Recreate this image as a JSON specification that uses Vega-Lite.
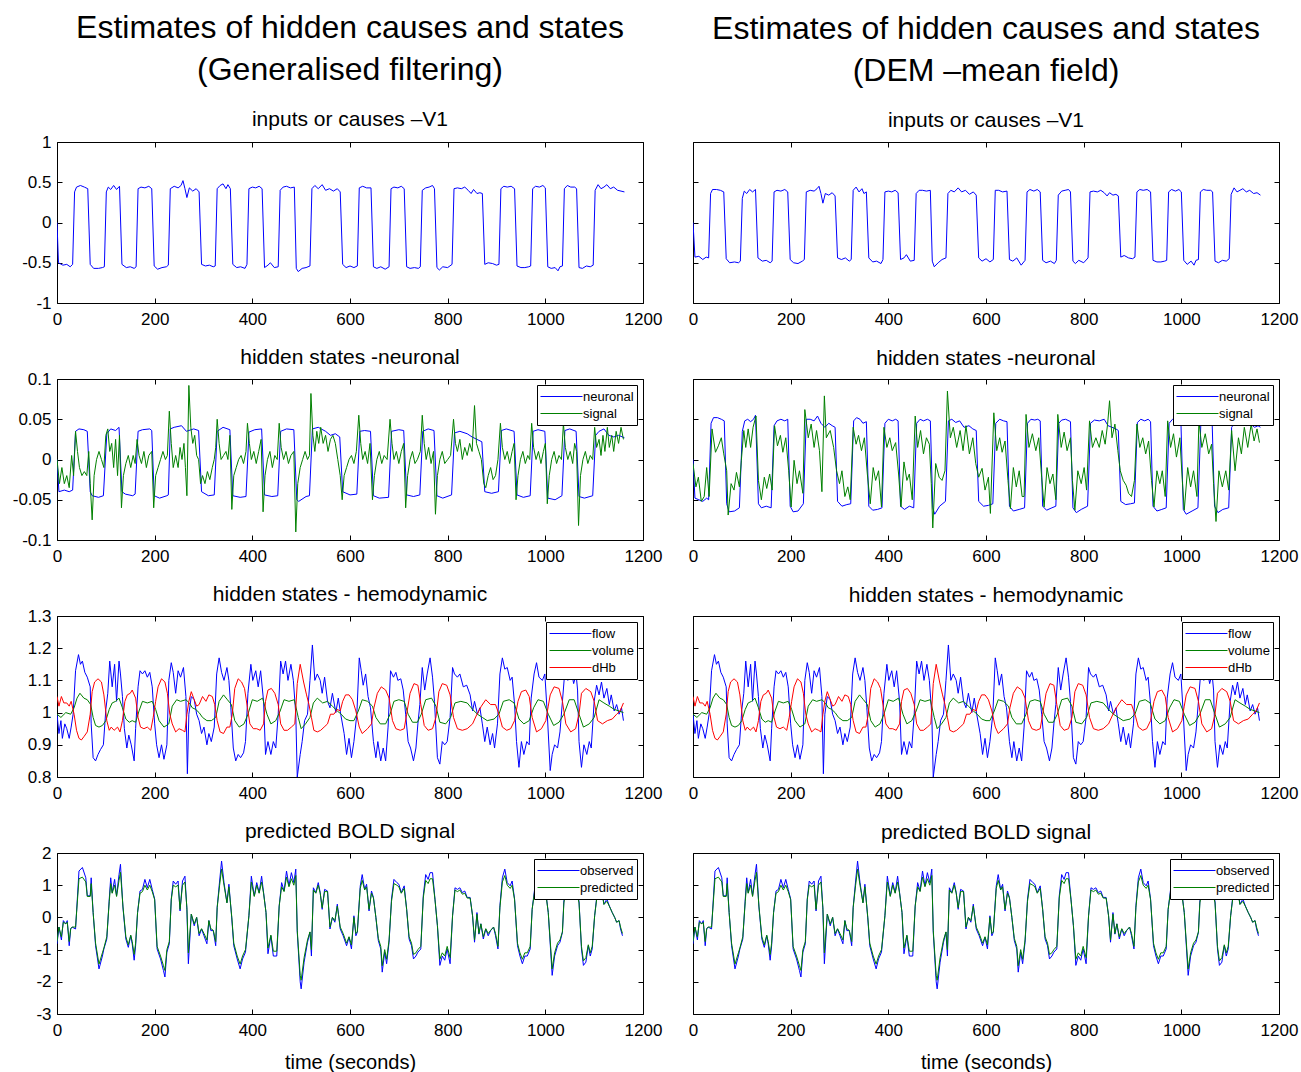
{
"$schema":"https://vega.github.io/schema/vega-lite/v6.json",
"background":"white",
"padding":{"left":11,"top":11,"right":0,"bottom":0},
"config":{
"font":"Liberation Sans",
"view":{"stroke":"#000","strokeWidth":1},
"axis":{"domain":false,"grid":false,"ticks":true,"tickSize":-5,"tickColor":"#000","tickWidth":1,"labelFont":"Liberation Sans","labelFontSize":17,"labelColor":"#000","labelFlush":false,"labelOverlap":false,"titleFont":"Liberation Sans","titleFontSize":20,"titleFontWeight":"normal","titleColor":"#000","titlePadding":14},
"axisX":{"labelPadding":13},
"axisY":{"labelPadding":11},
"legend":{"orient":"top-right","offset":6,"padding":3,"strokeColor":"#000","fillColor":"#fff","symbolType":"stroke","symbolSize":1764,"symbolStrokeWidth":1,"clipHeight":17,"labelFont":"Liberation Sans","labelFontSize":13,"labelColor":"#000","labelOffset":0,"rowPadding":0},
"title":{"font":"Liberation Sans","fontWeight":"normal","color":"#000","anchor":"middle","frame":"group","subtitleFont":"Liberation Sans","subtitleColor":"#000","subtitleFontWeight":"normal"}
},
"datasets":{
"fr":[{"t":600,"v":0}],
"v1L":[{"t":0,"v":0},{"t":3,"v":-0.5},{"t":12,"v":-0.53},{"t":20,"v":-0.52},{"t":27,"v":-0.55},{"t":32,"v":-0.52},{"t":36,"v":0.38},{"t":40,"v":0.44},{"t":48,"v":0.46},{"t":56,"v":0.44},{"t":63,"v":0.42},{"t":68,"v":-0.52},{"t":75,"v":-0.57},{"t":85,"v":-0.57},{"t":93,"v":-0.56},{"t":97,"v":-0.55},{"t":101,"v":0.38},{"t":105,"v":0.44},{"t":110,"v":0.41},{"t":116,"v":0.46},{"t":122,"v":0.41},{"t":128,"v":0.45},{"t":133,"v":-0.52},{"t":142,"v":-0.56},{"t":150,"v":-0.55},{"t":158,"v":-0.57},{"t":162,"v":-0.55},{"t":166,"v":0.42},{"t":172,"v":0.44},{"t":180,"v":0.43},{"t":188,"v":0.45},{"t":194,"v":0.42},{"t":199,"v":-0.54},{"t":206,"v":-0.58},{"t":215,"v":-0.56},{"t":224,"v":-0.55},{"t":228,"v":-0.53},{"t":232,"v":0.42},{"t":240,"v":0.45},{"t":248,"v":0.43},{"t":254,"v":0.46},{"t":258,"v":0.52},{"t":262,"v":0.42},{"t":266,"v":0.31},{"t":271,"v":0.43},{"t":278,"v":0.39},{"t":285,"v":0.42},{"t":291,"v":0.38},{"t":296,"v":-0.52},{"t":304,"v":-0.54},{"t":312,"v":-0.53},{"t":320,"v":-0.55},{"t":324,"v":-0.54},{"t":328,"v":0.42},{"t":334,"v":0.46},{"t":340,"v":0.48},{"t":346,"v":0.42},{"t":350,"v":0.47},{"t":355,"v":0.42},{"t":360,"v":-0.52},{"t":368,"v":-0.56},{"t":376,"v":-0.55},{"t":385,"v":-0.57},{"t":389,"v":-0.52},{"t":393,"v":0.42},{"t":400,"v":0.44},{"t":407,"v":0.43},{"t":414,"v":0.45},{"t":420,"v":0.42},{"t":425,"v":-0.56},{"t":432,"v":-0.53},{"t":437,"v":-0.5},{"t":445,"v":-0.56},{"t":453,"v":-0.55},{"t":457,"v":0.4},{"t":463,"v":0.44},{"t":470,"v":0.45},{"t":478,"v":0.43},{"t":486,"v":0.44},{"t":490,"v":-0.57},{"t":494,"v":-0.61},{"t":502,"v":-0.57},{"t":510,"v":-0.56},{"t":518,"v":-0.54},{"t":522,"v":0.42},{"t":528,"v":0.46},{"t":535,"v":0.42},{"t":543,"v":0.47},{"t":550,"v":0.4},{"t":558,"v":0.42},{"t":566,"v":0.39},{"t":574,"v":0.42},{"t":580,"v":0.38},{"t":585,"v":-0.52},{"t":592,"v":-0.56},{"t":600,"v":-0.54},{"t":608,"v":-0.56},{"t":615,"v":-0.54},{"t":619,"v":0.43},{"t":626,"v":0.45},{"t":634,"v":0.43},{"t":643,"v":0.43},{"t":648,"v":-0.55},{"t":655,"v":-0.57},{"t":663,"v":-0.55},{"t":672,"v":-0.58},{"t":680,"v":-0.55},{"t":684,"v":0.42},{"t":690,"v":0.44},{"t":698,"v":0.43},{"t":705,"v":0.45},{"t":711,"v":0.42},{"t":716,"v":-0.55},{"t":723,"v":-0.57},{"t":732,"v":-0.56},{"t":740,"v":-0.57},{"t":744,"v":-0.55},{"t":748,"v":0.4},{"t":755,"v":0.43},{"t":762,"v":0.44},{"t":769,"v":0.46},{"t":773,"v":0.42},{"t":778,"v":-0.56},{"t":783,"v":-0.59},{"t":790,"v":-0.55},{"t":800,"v":-0.56},{"t":809,"v":-0.52},{"t":813,"v":0.42},{"t":820,"v":0.43},{"t":828,"v":0.42},{"t":835,"v":0.44},{"t":842,"v":0.4},{"t":848,"v":0.36},{"t":853,"v":0.41},{"t":860,"v":0.36},{"t":866,"v":0.37},{"t":871,"v":0.36},{"t":876,"v":-0.52},{"t":883,"v":-0.5},{"t":892,"v":-0.51},{"t":900,"v":-0.53},{"t":905,"v":-0.52},{"t":909,"v":0.42},{"t":915,"v":0.45},{"t":922,"v":0.44},{"t":930,"v":0.45},{"t":937,"v":0.42},{"t":942,"v":-0.54},{"t":950,"v":-0.56},{"t":958,"v":-0.56},{"t":966,"v":-0.55},{"t":970,"v":-0.54},{"t":974,"v":0.42},{"t":980,"v":0.45},{"t":988,"v":0.44},{"t":995,"v":0.46},{"t":1000,"v":0.43},{"t":1005,"v":-0.55},{"t":1012,"v":-0.57},{"t":1020,"v":-0.56},{"t":1026,"v":-0.6},{"t":1030,"v":-0.55},{"t":1035,"v":-0.54},{"t":1039,"v":0.42},{"t":1045,"v":0.46},{"t":1052,"v":0.44},{"t":1060,"v":0.44},{"t":1064,"v":0.42},{"t":1069,"v":-0.56},{"t":1076,"v":-0.57},{"t":1084,"v":-0.54},{"t":1092,"v":-0.55},{"t":1098,"v":-0.53},{"t":1102,"v":0.4},{"t":1108,"v":0.47},{"t":1114,"v":0.42},{"t":1120,"v":0.44},{"t":1126,"v":0.47},{"t":1133,"v":0.42},{"t":1140,"v":0.44},{"t":1148,"v":0.4},{"t":1155,"v":0.39},{"t":1162,"v":0.38}],
"v1R":[{"t":0,"v":0},{"t":4,"v":-0.43},{"t":12,"v":-0.42},{"t":20,"v":-0.46},{"t":27,"v":-0.43},{"t":32,"v":-0.44},{"t":36,"v":0.36},{"t":40,"v":0.41},{"t":48,"v":0.41},{"t":56,"v":0.4},{"t":63,"v":0.38},{"t":68,"v":-0.45},{"t":75,"v":-0.5},{"t":85,"v":-0.49},{"t":93,"v":-0.5},{"t":97,"v":-0.48},{"t":101,"v":0.3},{"t":105,"v":0.39},{"t":110,"v":0.36},{"t":116,"v":0.41},{"t":122,"v":0.38},{"t":128,"v":0.41},{"t":133,"v":-0.44},{"t":142,"v":-0.48},{"t":150,"v":-0.47},{"t":158,"v":-0.5},{"t":162,"v":-0.48},{"t":166,"v":0.38},{"t":172,"v":0.4},{"t":180,"v":0.39},{"t":188,"v":0.41},{"t":194,"v":0.38},{"t":199,"v":-0.46},{"t":206,"v":-0.5},{"t":215,"v":-0.51},{"t":224,"v":-0.48},{"t":228,"v":-0.46},{"t":232,"v":0.38},{"t":240,"v":0.4},{"t":248,"v":0.39},{"t":254,"v":0.42},{"t":258,"v":0.45},{"t":262,"v":0.36},{"t":266,"v":0.24},{"t":271,"v":0.36},{"t":278,"v":0.34},{"t":285,"v":0.37},{"t":291,"v":0.33},{"t":296,"v":-0.44},{"t":304,"v":-0.46},{"t":312,"v":-0.44},{"t":320,"v":-0.48},{"t":324,"v":-0.46},{"t":328,"v":0.4},{"t":334,"v":0.44},{"t":340,"v":0.38},{"t":346,"v":0.42},{"t":350,"v":0.36},{"t":355,"v":0.38},{"t":360,"v":-0.44},{"t":368,"v":-0.49},{"t":376,"v":-0.48},{"t":385,"v":-0.51},{"t":389,"v":-0.46},{"t":393,"v":0.38},{"t":400,"v":0.39},{"t":407,"v":0.38},{"t":414,"v":0.4},{"t":420,"v":0.37},{"t":425,"v":-0.46},{"t":432,"v":-0.44},{"t":437,"v":-0.4},{"t":445,"v":-0.48},{"t":453,"v":-0.47},{"t":457,"v":0.36},{"t":463,"v":0.4},{"t":470,"v":0.4},{"t":478,"v":0.39},{"t":486,"v":0.4},{"t":490,"v":-0.48},{"t":494,"v":-0.55},{"t":502,"v":-0.5},{"t":510,"v":-0.46},{"t":518,"v":-0.44},{"t":522,"v":0.36},{"t":528,"v":0.4},{"t":535,"v":0.38},{"t":543,"v":0.43},{"t":550,"v":0.38},{"t":558,"v":0.4},{"t":566,"v":0.35},{"t":574,"v":0.38},{"t":580,"v":0.34},{"t":585,"v":-0.44},{"t":592,"v":-0.48},{"t":600,"v":-0.45},{"t":608,"v":-0.49},{"t":615,"v":-0.46},{"t":619,"v":0.4},{"t":626,"v":0.4},{"t":634,"v":0.38},{"t":643,"v":0.39},{"t":648,"v":-0.46},{"t":655,"v":-0.48},{"t":663,"v":-0.44},{"t":672,"v":-0.53},{"t":680,"v":-0.47},{"t":684,"v":0.38},{"t":690,"v":0.41},{"t":698,"v":0.39},{"t":705,"v":0.41},{"t":711,"v":0.38},{"t":716,"v":-0.47},{"t":723,"v":-0.5},{"t":732,"v":-0.48},{"t":740,"v":-0.51},{"t":744,"v":-0.47},{"t":748,"v":0.34},{"t":755,"v":0.39},{"t":762,"v":0.4},{"t":769,"v":0.41},{"t":773,"v":0.38},{"t":778,"v":-0.48},{"t":783,"v":-0.51},{"t":790,"v":-0.47},{"t":800,"v":-0.5},{"t":809,"v":-0.44},{"t":813,"v":0.38},{"t":820,"v":0.39},{"t":828,"v":0.38},{"t":835,"v":0.4},{"t":842,"v":0.37},{"t":848,"v":0.33},{"t":853,"v":0.37},{"t":860,"v":0.34},{"t":866,"v":0.35},{"t":871,"v":0.33},{"t":876,"v":-0.43},{"t":883,"v":-0.41},{"t":892,"v":-0.44},{"t":900,"v":-0.45},{"t":905,"v":-0.43},{"t":909,"v":0.38},{"t":915,"v":0.41},{"t":922,"v":0.4},{"t":930,"v":0.41},{"t":937,"v":0.38},{"t":942,"v":-0.47},{"t":950,"v":-0.49},{"t":958,"v":-0.49},{"t":966,"v":-0.48},{"t":970,"v":-0.47},{"t":974,"v":0.38},{"t":980,"v":0.41},{"t":988,"v":0.39},{"t":995,"v":0.41},{"t":1000,"v":0.38},{"t":1005,"v":-0.47},{"t":1012,"v":-0.52},{"t":1020,"v":-0.48},{"t":1026,"v":-0.53},{"t":1030,"v":-0.47},{"t":1035,"v":-0.46},{"t":1039,"v":0.38},{"t":1045,"v":0.41},{"t":1052,"v":0.4},{"t":1060,"v":0.4},{"t":1064,"v":0.38},{"t":1069,"v":-0.48},{"t":1076,"v":-0.5},{"t":1084,"v":-0.47},{"t":1092,"v":-0.48},{"t":1098,"v":-0.45},{"t":1102,"v":0.35},{"t":1108,"v":0.43},{"t":1114,"v":0.38},{"t":1120,"v":0.4},{"t":1126,"v":0.42},{"t":1133,"v":0.38},{"t":1140,"v":0.4},{"t":1148,"v":0.36},{"t":1155,"v":0.37},{"t":1162,"v":0.34}],
"neL":[{"t":0,"neuronal":0},{"t":4,"neuronal":-0.04},{"t":15,"neuronal":-0.038},{"t":25,"neuronal":-0.04},{"t":32,"neuronal":-0.038},{"t":38,"neuronal":0.035},{"t":45,"neuronal":0.038},{"t":55,"neuronal":0.037},{"t":62,"neuronal":0.035},{"t":68,"neuronal":-0.04},{"t":72,"neuronal":-0.045},{"t":85,"neuronal":-0.047},{"t":95,"neuronal":-0.045},{"t":102,"neuronal":0.032},{"t":110,"neuronal":0.038},{"t":120,"neuronal":0.036},{"t":127,"neuronal":0.04},{"t":133,"neuronal":-0.04},{"t":140,"neuronal":-0.043},{"t":155,"neuronal":-0.045},{"t":160,"neuronal":-0.043},{"t":166,"neuronal":0.035},{"t":175,"neuronal":0.037},{"t":190,"neuronal":0.038},{"t":194,"neuronal":0.036},{"t":199,"neuronal":-0.045},{"t":210,"neuronal":-0.048},{"t":225,"neuronal":-0.045},{"t":228,"neuronal":-0.044},{"t":232,"neuronal":0.038},{"t":240,"neuronal":0.04},{"t":255,"neuronal":0.042},{"t":265,"neuronal":0.035},{"t":280,"neuronal":0.038},{"t":290,"neuronal":0.036},{"t":296,"neuronal":-0.04},{"t":310,"neuronal":-0.045},{"t":322,"neuronal":-0.044},{"t":328,"neuronal":0.035},{"t":340,"neuronal":0.04},{"t":354,"neuronal":0.037},{"t":360,"neuronal":-0.045},{"t":375,"neuronal":-0.047},{"t":387,"neuronal":-0.046},{"t":393,"neuronal":0.034},{"t":405,"neuronal":0.037},{"t":419,"neuronal":0.038},{"t":425,"neuronal":-0.044},{"t":440,"neuronal":-0.046},{"t":452,"neuronal":-0.045},{"t":458,"neuronal":0.035},{"t":470,"neuronal":0.038},{"t":485,"neuronal":0.037},{"t":491,"neuronal":-0.05},{"t":495,"neuronal":-0.052},{"t":510,"neuronal":-0.046},{"t":517,"neuronal":-0.045},{"t":523,"neuronal":0.038},{"t":535,"neuronal":0.04},{"t":550,"neuronal":0.035},{"t":560,"neuronal":0.03},{"t":570,"neuronal":0.032},{"t":579,"neuronal":0.028},{"t":585,"neuronal":-0.04},{"t":600,"neuronal":-0.044},{"t":614,"neuronal":-0.043},{"t":620,"neuronal":0.035},{"t":630,"neuronal":0.036},{"t":642,"neuronal":0.035},{"t":648,"neuronal":-0.045},{"t":660,"neuronal":-0.048},{"t":679,"neuronal":-0.047},{"t":685,"neuronal":0.035},{"t":700,"neuronal":0.037},{"t":710,"neuronal":0.036},{"t":716,"neuronal":-0.044},{"t":730,"neuronal":-0.046},{"t":743,"neuronal":-0.044},{"t":749,"neuronal":0.035},{"t":760,"neuronal":0.038},{"t":772,"neuronal":0.036},{"t":778,"neuronal":-0.045},{"t":790,"neuronal":-0.048},{"t":808,"neuronal":-0.044},{"t":814,"neuronal":0.033},{"t":825,"neuronal":0.035},{"t":840,"neuronal":0.032},{"t":850,"neuronal":0.028},{"t":860,"neuronal":0.025},{"t":870,"neuronal":0.022},{"t":876,"neuronal":-0.04},{"t":890,"neuronal":-0.042},{"t":904,"neuronal":-0.04},{"t":910,"neuronal":0.036},{"t":920,"neuronal":0.038},{"t":936,"neuronal":0.035},{"t":942,"neuronal":-0.044},{"t":955,"neuronal":-0.047},{"t":969,"neuronal":-0.045},{"t":975,"neuronal":0.035},{"t":985,"neuronal":0.037},{"t":999,"neuronal":0.035},{"t":1005,"neuronal":-0.048},{"t":1020,"neuronal":-0.05},{"t":1034,"neuronal":-0.045},{"t":1040,"neuronal":0.036},{"t":1050,"neuronal":0.038},{"t":1063,"neuronal":0.035},{"t":1069,"neuronal":-0.046},{"t":1080,"neuronal":-0.048},{"t":1097,"neuronal":-0.045},{"t":1103,"neuronal":0.03},{"t":1110,"neuronal":0.035},{"t":1120,"neuronal":0.038},{"t":1130,"neuronal":0.03},{"t":1140,"neuronal":0.028},{"t":1150,"neuronal":0.03},{"t":1162,"neuronal":0.027}],
"siL":[{"t":0,"signal":0},{"t":5,"signal":-0.03},{"t":10,"signal":-0.01},{"t":15,"signal":-0.03},{"t":20,"signal":-0.02},{"t":25,"signal":-0.035},{"t":30,"signal":0.005},{"t":34,"signal":-0.02},{"t":38,"signal":0.035},{"t":42,"signal":0.01},{"t":46,"signal":-0.01},{"t":51,"signal":-0.02},{"t":56,"signal":-0.015},{"t":61,"signal":-0.02},{"t":65,"signal":0.01},{"t":68,"signal":-0.03},{"t":72,"signal":-0.075},{"t":76,"signal":-0.02},{"t":81,"signal":0},{"t":86,"signal":0.01},{"t":91,"signal":0},{"t":96,"signal":-0.01},{"t":100,"signal":0.03},{"t":104,"signal":0.038},{"t":108,"signal":0.01},{"t":112,"signal":0.02},{"t":116,"signal":-0.01},{"t":120,"signal":0.025},{"t":124,"signal":-0.02},{"t":128,"signal":0.03},{"t":132,"signal":-0.06},{"t":136,"signal":-0.02},{"t":141,"signal":-0.005},{"t":146,"signal":0.005},{"t":151,"signal":-0.01},{"t":156,"signal":0.005},{"t":160,"signal":-0.005},{"t":164,"signal":0.025},{"t":168,"signal":0.005},{"t":173,"signal":-0.005},{"t":178,"signal":0.01},{"t":183,"signal":-0.01},{"t":188,"signal":0.005},{"t":194,"signal":0.01},{"t":198,"signal":-0.06},{"t":202,"signal":-0.02},{"t":207,"signal":-0.01},{"t":212,"signal":0},{"t":217,"signal":0.01},{"t":222,"signal":0},{"t":226,"signal":0.005},{"t":230,"signal":0.06},{"t":234,"signal":0.02},{"t":238,"signal":-0.01},{"t":243,"signal":0.005},{"t":248,"signal":-0.01},{"t":252,"signal":0.015},{"t":256,"signal":0},{"t":260,"signal":0.02},{"t":263,"signal":-0.01},{"t":266,"signal":-0.045},{"t":270,"signal":0.092},{"t":274,"signal":0.04},{"t":278,"signal":0.02},{"t":282,"signal":0.03},{"t":286,"signal":0.005},{"t":290,"signal":0},{"t":294,"signal":-0.03},{"t":298,"signal":-0.02},{"t":303,"signal":-0.03},{"t":308,"signal":-0.015},{"t":313,"signal":-0.025},{"t":318,"signal":-0.01},{"t":322,"signal":0},{"t":325,"signal":0.015},{"t":328,"signal":0.05},{"t":332,"signal":0.02},{"t":336,"signal":0},{"t":341,"signal":0.005},{"t":346,"signal":0.01},{"t":350,"signal":0},{"t":354,"signal":0.03},{"t":358,"signal":-0.062},{"t":362,"signal":-0.02},{"t":367,"signal":-0.01},{"t":372,"signal":0},{"t":377,"signal":0.005},{"t":382,"signal":-0.005},{"t":387,"signal":0.01},{"t":390,"signal":0.045},{"t":394,"signal":0.02},{"t":398,"signal":0},{"t":403,"signal":0.01},{"t":408,"signal":-0.005},{"t":413,"signal":0.01},{"t":418,"signal":0.025},{"t":422,"signal":-0.065},{"t":426,"signal":-0.02},{"t":431,"signal":0},{"t":436,"signal":0.01},{"t":441,"signal":-0.01},{"t":446,"signal":0.005},{"t":451,"signal":0},{"t":455,"signal":0.045},{"t":459,"signal":0.015},{"t":464,"signal":0},{"t":469,"signal":0.01},{"t":474,"signal":-0.005},{"t":479,"signal":0.005},{"t":485,"signal":0.01},{"t":489,"signal":-0.09},{"t":493,"signal":-0.03},{"t":498,"signal":-0.01},{"t":503,"signal":0},{"t":508,"signal":0.01},{"t":513,"signal":0},{"t":517,"signal":0.005},{"t":520,"signal":0.082},{"t":524,"signal":0.03},{"t":528,"signal":0.01},{"t":532,"signal":0.035},{"t":536,"signal":0.02},{"t":540,"signal":0.04},{"t":545,"signal":0.02},{"t":550,"signal":0.03},{"t":555,"signal":0.01},{"t":560,"signal":0.025},{"t":565,"signal":0.03},{"t":570,"signal":0.02},{"t":575,"signal":0},{"t":580,"signal":-0.02},{"t":584,"signal":-0.05},{"t":588,"signal":-0.02},{"t":593,"signal":-0.01},{"t":598,"signal":0},{"t":603,"signal":0.005},{"t":608,"signal":-0.005},{"t":613,"signal":0.01},{"t":618,"signal":0.055},{"t":622,"signal":0.02},{"t":626,"signal":0},{"t":631,"signal":0.01},{"t":636,"signal":-0.005},{"t":641,"signal":0.02},{"t":646,"signal":-0.05},{"t":650,"signal":-0.02},{"t":655,"signal":0},{"t":660,"signal":0.01},{"t":665,"signal":-0.005},{"t":670,"signal":0.005},{"t":676,"signal":0},{"t":682,"signal":0.05},{"t":686,"signal":0.02},{"t":690,"signal":0},{"t":695,"signal":0.01},{"t":700,"signal":-0.005},{"t":705,"signal":0.01},{"t":710,"signal":0.02},{"t":714,"signal":-0.06},{"t":718,"signal":-0.02},{"t":723,"signal":0},{"t":728,"signal":0.01},{"t":733,"signal":-0.005},{"t":738,"signal":0},{"t":744,"signal":0.01},{"t":748,"signal":0.055},{"t":752,"signal":0.02},{"t":756,"signal":0},{"t":761,"signal":0.015},{"t":766,"signal":-0.005},{"t":771,"signal":0.01},{"t":775,"signal":-0.068},{"t":779,"signal":-0.02},{"t":784,"signal":0},{"t":789,"signal":0.01},{"t":794,"signal":-0.005},{"t":800,"signal":0},{"t":806,"signal":0.005},{"t":812,"signal":0.05},{"t":816,"signal":0.02},{"t":820,"signal":0.01},{"t":825,"signal":0.025},{"t":830,"signal":0},{"t":835,"signal":0.015},{"t":840,"signal":0.005},{"t":845,"signal":0.02},{"t":850,"signal":0.01},{"t":855,"signal":0.067},{"t":859,"signal":0.02},{"t":864,"signal":0.01},{"t":869,"signal":0},{"t":874,"signal":-0.03},{"t":878,"signal":-0.035},{"t":883,"signal":-0.02},{"t":888,"signal":-0.01},{"t":893,"signal":-0.025},{"t":898,"signal":-0.02},{"t":903,"signal":0},{"t":908,"signal":0.045},{"t":912,"signal":0.015},{"t":917,"signal":0},{"t":922,"signal":0.01},{"t":927,"signal":-0.005},{"t":932,"signal":0.01},{"t":936,"signal":0.02},{"t":940,"signal":-0.05},{"t":944,"signal":-0.02},{"t":949,"signal":0},{"t":954,"signal":0.01},{"t":959,"signal":-0.005},{"t":964,"signal":0.005},{"t":968,"signal":0},{"t":972,"signal":0.045},{"t":976,"signal":0.015},{"t":981,"signal":0},{"t":986,"signal":0.01},{"t":991,"signal":-0.005},{"t":996,"signal":0.01},{"t":1000,"signal":0.02},{"t":1004,"signal":-0.055},{"t":1008,"signal":-0.02},{"t":1013,"signal":0},{"t":1018,"signal":0.01},{"t":1023,"signal":-0.005},{"t":1028,"signal":0.005},{"t":1033,"signal":0},{"t":1037,"signal":0.045},{"t":1041,"signal":0.015},{"t":1046,"signal":0},{"t":1051,"signal":0.01},{"t":1056,"signal":-0.005},{"t":1060,"signal":0.02},{"t":1064,"signal":0.01},{"t":1068,"signal":-0.082},{"t":1072,"signal":-0.02},{"t":1077,"signal":0},{"t":1082,"signal":0.01},{"t":1087,"signal":-0.005},{"t":1092,"signal":0.005},{"t":1097,"signal":0},{"t":1101,"signal":0.04},{"t":1105,"signal":0.015},{"t":1110,"signal":0.025},{"t":1114,"signal":0.005},{"t":1118,"signal":0.03},{"t":1122,"signal":0.01},{"t":1127,"signal":0.04},{"t":1131,"signal":0.015},{"t":1136,"signal":0.03},{"t":1140,"signal":0.01},{"t":1145,"signal":0.035},{"t":1150,"signal":0.02},{"t":1155,"signal":0.04},{"t":1160,"signal":0.025}],
"neR":[{"t":0,"neuronal":0},{"t":4,"neuronal":-0.048},{"t":12,"neuronal":-0.05},{"t":20,"neuronal":-0.052},{"t":28,"neuronal":-0.048},{"t":32,"neuronal":-0.05},{"t":37,"neuronal":0.045},{"t":42,"neuronal":0.052},{"t":50,"neuronal":0.052},{"t":58,"neuronal":0.05},{"t":64,"neuronal":0.048},{"t":69,"neuronal":-0.055},{"t":74,"neuronal":-0.065},{"t":85,"neuronal":-0.064},{"t":95,"neuronal":-0.06},{"t":101,"neuronal":0.035},{"t":106,"neuronal":0.048},{"t":112,"neuronal":0.05},{"t":118,"neuronal":0.047},{"t":124,"neuronal":0.05},{"t":128,"neuronal":0.055},{"t":134,"neuronal":-0.055},{"t":140,"neuronal":-0.06},{"t":150,"neuronal":-0.058},{"t":160,"neuronal":-0.06},{"t":166,"neuronal":0.042},{"t":172,"neuronal":0.048},{"t":180,"neuronal":0.05},{"t":188,"neuronal":0.048},{"t":194,"neuronal":0.05},{"t":199,"neuronal":-0.058},{"t":205,"neuronal":-0.065},{"t":215,"neuronal":-0.064},{"t":226,"neuronal":-0.055},{"t":232,"neuronal":0.05},{"t":240,"neuronal":0.05},{"t":248,"neuronal":0.048},{"t":255,"neuronal":0.054},{"t":262,"neuronal":0.045},{"t":270,"neuronal":0.04},{"t":278,"neuronal":0.045},{"t":285,"neuronal":0.042},{"t":291,"neuronal":0.04},{"t":296,"neuronal":-0.052},{"t":305,"neuronal":-0.058},{"t":315,"neuronal":-0.056},{"t":323,"neuronal":-0.055},{"t":329,"neuronal":0.048},{"t":335,"neuronal":0.052},{"t":342,"neuronal":0.05},{"t":348,"neuronal":0.045},{"t":355,"neuronal":0.047},{"t":360,"neuronal":-0.058},{"t":368,"neuronal":-0.063},{"t":378,"neuronal":-0.062},{"t":387,"neuronal":-0.06},{"t":393,"neuronal":0.045},{"t":400,"neuronal":0.05},{"t":408,"neuronal":0.048},{"t":415,"neuronal":0.05},{"t":420,"neuronal":0.048},{"t":425,"neuronal":-0.058},{"t":433,"neuronal":-0.062},{"t":443,"neuronal":-0.058},{"t":452,"neuronal":-0.06},{"t":458,"neuronal":0.045},{"t":465,"neuronal":0.05},{"t":472,"neuronal":0.048},{"t":480,"neuronal":0.05},{"t":486,"neuronal":0.048},{"t":491,"neuronal":-0.06},{"t":495,"neuronal":-0.068},{"t":505,"neuronal":-0.058},{"t":517,"neuronal":-0.052},{"t":523,"neuronal":0.048},{"t":530,"neuronal":0.05},{"t":538,"neuronal":0.046},{"t":546,"neuronal":0.048},{"t":555,"neuronal":0.04},{"t":565,"neuronal":0.042},{"t":573,"neuronal":0.038},{"t":580,"neuronal":0.036},{"t":585,"neuronal":-0.052},{"t":595,"neuronal":-0.058},{"t":605,"neuronal":-0.057},{"t":614,"neuronal":-0.055},{"t":620,"neuronal":0.045},{"t":628,"neuronal":0.05},{"t":636,"neuronal":0.048},{"t":643,"neuronal":0.047},{"t":648,"neuronal":-0.058},{"t":656,"neuronal":-0.064},{"t":668,"neuronal":-0.062},{"t":679,"neuronal":-0.06},{"t":685,"neuronal":0.045},{"t":692,"neuronal":0.05},{"t":700,"neuronal":0.049},{"t":706,"neuronal":0.05},{"t":711,"neuronal":0.048},{"t":716,"neuronal":-0.058},{"t":724,"neuronal":-0.063},{"t":735,"neuronal":-0.06},{"t":743,"neuronal":-0.058},{"t":749,"neuronal":0.045},{"t":755,"neuronal":0.049},{"t":763,"neuronal":0.05},{"t":770,"neuronal":0.048},{"t":773,"neuronal":0.047},{"t":778,"neuronal":-0.06},{"t":785,"neuronal":-0.066},{"t":795,"neuronal":-0.062},{"t":808,"neuronal":-0.058},{"t":814,"neuronal":0.045},{"t":822,"neuronal":0.049},{"t":832,"neuronal":0.048},{"t":842,"neuronal":0.05},{"t":850,"neuronal":0.042},{"t":858,"neuronal":0.04},{"t":866,"neuronal":0.038},{"t":871,"neuronal":0.036},{"t":876,"neuronal":-0.052},{"t":886,"neuronal":-0.056},{"t":896,"neuronal":-0.055},{"t":904,"neuronal":-0.054},{"t":910,"neuronal":0.046},{"t":917,"neuronal":0.05},{"t":925,"neuronal":0.048},{"t":932,"neuronal":0.05},{"t":937,"neuronal":0.047},{"t":942,"neuronal":-0.058},{"t":950,"neuronal":-0.064},{"t":960,"neuronal":-0.062},{"t":969,"neuronal":-0.06},{"t":975,"neuronal":0.045},{"t":982,"neuronal":0.05},{"t":990,"neuronal":0.048},{"t":999,"neuronal":0.05},{"t":1004,"neuronal":-0.062},{"t":1010,"neuronal":-0.068},{"t":1022,"neuronal":-0.064},{"t":1034,"neuronal":-0.06},{"t":1040,"neuronal":0.046},{"t":1048,"neuronal":0.05},{"t":1056,"neuronal":0.049},{"t":1063,"neuronal":0.048},{"t":1068,"neuronal":-0.058},{"t":1075,"neuronal":-0.066},{"t":1085,"neuronal":-0.062},{"t":1097,"neuronal":-0.06},{"t":1103,"neuronal":0.04},{"t":1110,"neuronal":0.046},{"t":1118,"neuronal":0.044},{"t":1126,"neuronal":0.046},{"t":1134,"neuronal":0.042},{"t":1142,"neuronal":0.044},{"t":1150,"neuronal":0.04},{"t":1157,"neuronal":0.042},{"t":1162,"neuronal":0.04}],
"siR":[{"t":0,"signal":-0.005},{"t":6,"signal":-0.034},{"t":11,"signal":-0.022},{"t":17,"signal":-0.052},{"t":23,"signal":-0.046},{"t":28,"signal":-0.01},{"t":33,"signal":-0.046},{"t":39,"signal":0.038},{"t":46,"signal":0.009},{"t":52,"signal":0.017},{"t":58,"signal":0.027},{"t":63,"signal":0.007},{"t":69,"signal":-0.014},{"t":72,"signal":-0.069},{"t":78,"signal":-0.03},{"t":84,"signal":-0.038},{"t":89,"signal":-0.016},{"t":95,"signal":-0.034},{"t":99,"signal":-0.001},{"t":104,"signal":0.036},{"t":108,"signal":0.015},{"t":113,"signal":0.038},{"t":118,"signal":0.015},{"t":123,"signal":0.04},{"t":129,"signal":0.054},{"t":134,"signal":-0.026},{"t":140,"signal":-0.05},{"t":146,"signal":-0.022},{"t":151,"signal":-0.036},{"t":157,"signal":-0.018},{"t":162,"signal":-0.038},{"t":167,"signal":0.042},{"t":173,"signal":0.017},{"t":179,"signal":0.03},{"t":184,"signal":0.009},{"t":190,"signal":0.027},{"t":196,"signal":-0.014},{"t":201,"signal":-0.059},{"t":207,"signal":-0.001},{"t":213,"signal":-0.03},{"t":218,"signal":-0.014},{"t":225,"signal":-0.042},{"t":229,"signal":0.062},{"t":236,"signal":0.027},{"t":242,"signal":0.044},{"t":248,"signal":0.015},{"t":253,"signal":0.036},{"t":259,"signal":0.011},{"t":264,"signal":-0.04},{"t":269,"signal":0.079},{"t":273,"signal":0.027},{"t":281,"signal":0.036},{"t":288,"signal":0.015},{"t":294,"signal":-0.014},{"t":300,"signal":-0.03},{"t":305,"signal":-0.014},{"t":311,"signal":-0.046},{"t":317,"signal":-0.034},{"t":322,"signal":-0.05},{"t":328,"signal":0.04},{"t":334,"signal":0.019},{"t":339,"signal":0.03},{"t":345,"signal":0.011},{"t":351,"signal":0.027},{"t":357,"signal":-0.018},{"t":363,"signal":-0.055},{"t":369,"signal":-0.01},{"t":374,"signal":-0.026},{"t":380,"signal":-0.014},{"t":386,"signal":-0.059},{"t":391,"signal":0.04},{"t":397,"signal":0.015},{"t":403,"signal":0.027},{"t":408,"signal":0.011},{"t":415,"signal":0.021},{"t":421,"signal":-0.018},{"t":426,"signal":-0.059},{"t":432,"signal":-0.003},{"t":438,"signal":-0.026},{"t":443,"signal":-0.018},{"t":449,"signal":-0.05},{"t":455,"signal":0.054},{"t":460,"signal":0.015},{"t":466,"signal":0.036},{"t":472,"signal":0.007},{"t":478,"signal":0.027},{"t":484,"signal":0.019},{"t":488,"signal":-0.03},{"t":491,"signal":-0.085},{"t":497,"signal":-0.005},{"t":504,"signal":-0.022},{"t":510,"signal":-0.026},{"t":516,"signal":-0.014},{"t":521,"signal":0.085},{"t":527,"signal":0.027},{"t":533,"signal":0.04},{"t":540,"signal":0.015},{"t":547,"signal":0.036},{"t":553,"signal":0.011},{"t":559,"signal":0.042},{"t":566,"signal":0.007},{"t":573,"signal":0.027},{"t":579,"signal":-0.005},{"t":585,"signal":-0.022},{"t":592,"signal":-0.011},{"t":598,"signal":-0.038},{"t":605,"signal":-0.022},{"t":609,"signal":-0.067},{"t":616,"signal":0.058},{"t":622,"signal":0.011},{"t":628,"signal":0.027},{"t":633,"signal":0.009},{"t":639,"signal":0.023},{"t":645,"signal":-0.026},{"t":650,"signal":-0.061},{"t":656,"signal":-0.01},{"t":662,"signal":-0.034},{"t":668,"signal":-0.014},{"t":674,"signal":-0.046},{"t":678,"signal":-0.046},{"t":682,"signal":0.056},{"t":688,"signal":0.015},{"t":695,"signal":0.032},{"t":702,"signal":0.011},{"t":708,"signal":0.027},{"t":714,"signal":-0.022},{"t":719,"signal":-0.059},{"t":725,"signal":-0.01},{"t":731,"signal":-0.03},{"t":737,"signal":-0.018},{"t":743,"signal":-0.05},{"t":747,"signal":0.056},{"t":754,"signal":0.015},{"t":760,"signal":0.034},{"t":766,"signal":0.011},{"t":773,"signal":0.027},{"t":777,"signal":-0.026},{"t":782,"signal":-0.063},{"t":788,"signal":-0.014},{"t":795,"signal":-0.03},{"t":801,"signal":-0.01},{"t":806,"signal":-0.038},{"t":812,"signal":0.048},{"t":818,"signal":0.015},{"t":825,"signal":0.027},{"t":832,"signal":0.015},{"t":838,"signal":0.036},{"t":844,"signal":0.019},{"t":849,"signal":0.044},{"t":853,"signal":0.073},{"t":858,"signal":0.027},{"t":864,"signal":0.044},{"t":870,"signal":0.011},{"t":875,"signal":-0.014},{"t":881,"signal":-0.026},{"t":887,"signal":-0.032},{"t":892,"signal":-0.042},{"t":898,"signal":-0.046},{"t":904,"signal":-0.026},{"t":909,"signal":0.044},{"t":915,"signal":0.015},{"t":921,"signal":0.027},{"t":927,"signal":0.007},{"t":933,"signal":0.023},{"t":939,"signal":-0.026},{"t":944,"signal":-0.059},{"t":950,"signal":-0.014},{"t":956,"signal":-0.03},{"t":961,"signal":-0.014},{"t":967,"signal":-0.046},{"t":972,"signal":0.048},{"t":978,"signal":0.015},{"t":984,"signal":0.032},{"t":990,"signal":0.003},{"t":997,"signal":0.027},{"t":1002,"signal":-0.026},{"t":1006,"signal":-0.063},{"t":1013,"signal":-0.01},{"t":1019,"signal":-0.034},{"t":1025,"signal":-0.014},{"t":1032,"signal":-0.046},{"t":1036,"signal":0.048},{"t":1042,"signal":0.015},{"t":1049,"signal":0.032},{"t":1056,"signal":0.007},{"t":1062,"signal":0.019},{"t":1066,"signal":-0.03},{"t":1071,"signal":-0.077},{"t":1077,"signal":-0.014},{"t":1084,"signal":-0.034},{"t":1091,"signal":-0.014},{"t":1097,"signal":-0.038},{"t":1103,"signal":0.036},{"t":1110,"signal":-0.014},{"t":1117,"signal":0.027},{"t":1123,"signal":0.007},{"t":1129,"signal":0.04},{"t":1136,"signal":0.015},{"t":1143,"signal":0.044},{"t":1149,"signal":0.023},{"t":1155,"signal":0.038},{"t":1160,"signal":0.021}],
"flo":[{"t":0,"flow":0.995},{"t":4,"flow":0.935},{"t":8,"flow":0.975},{"t":11,"flow":0.92},{"t":16,"flow":0.965},{"t":20,"flow":0.95},{"t":25,"flow":0.92},{"t":29,"flow":0.955},{"t":33,"flow":0.995},{"t":38,"flow":1.13},{"t":44,"flow":1.18},{"t":48,"flow":1.15},{"t":52,"flow":1.16},{"t":57,"flow":1.125},{"t":62,"flow":1.11},{"t":68,"flow":1.08},{"t":70,"flow":0.965},{"t":74,"flow":0.86},{"t":79,"flow":0.85},{"t":84,"flow":0.87},{"t":89,"flow":0.885},{"t":95,"flow":0.9},{"t":100,"flow":1.01},{"t":104,"flow":1.06},{"t":108,"flow":1.16},{"t":113,"flow":1.08},{"t":118,"flow":1.15},{"t":122,"flow":1.035},{"t":127,"flow":1.16},{"t":130,"flow":1.12},{"t":134,"flow":1.05},{"t":138,"flow":0.95},{"t":143,"flow":0.89},{"t":147,"flow":0.93},{"t":152,"flow":0.9},{"t":158,"flow":0.85},{"t":161,"flow":0.95},{"t":166,"flow":1.08},{"t":170,"flow":1.13},{"t":175,"flow":1.12},{"t":180,"flow":1.13},{"t":185,"flow":1.11},{"t":190,"flow":1.125},{"t":195,"flow":1.08},{"t":200,"flow":0.965},{"t":204,"flow":0.9},{"t":209,"flow":0.86},{"t":214,"flow":0.9},{"t":219,"flow":0.855},{"t":225,"flow":0.9},{"t":229,"flow":1.1},{"t":234,"flow":1.155},{"t":238,"flow":1.125},{"t":243,"flow":1.06},{"t":248,"flow":1.13},{"t":253,"flow":1.11},{"t":259,"flow":1.14},{"t":264,"flow":1.05},{"t":267,"flow":0.81},{"t":270,"flow":0.995},{"t":275,"flow":1.05},{"t":281,"flow":1.04},{"t":286,"flow":0.995},{"t":291,"flow":0.975},{"t":296,"flow":0.935},{"t":301,"flow":0.955},{"t":307,"flow":0.9},{"t":311,"flow":0.935},{"t":316,"flow":0.91},{"t":322,"flow":0.955},{"t":327,"flow":1.12},{"t":332,"flow":1.17},{"t":337,"flow":1.125},{"t":342,"flow":1.1},{"t":348,"flow":1.14},{"t":352,"flow":1.1},{"t":356,"flow":1.015},{"t":361,"flow":0.89},{"t":366,"flow":0.85},{"t":371,"flow":0.87},{"t":376,"flow":0.86},{"t":382,"flow":0.875},{"t":386,"flow":0.91},{"t":391,"flow":1.06},{"t":397,"flow":1.15},{"t":401,"flow":1.1},{"t":407,"flow":1.13},{"t":412,"flow":1.08},{"t":417,"flow":1.13},{"t":423,"flow":1.035},{"t":427,"flow":0.87},{"t":432,"flow":0.91},{"t":438,"flow":0.87},{"t":443,"flow":0.91},{"t":448,"flow":0.89},{"t":453,"flow":0.995},{"t":458,"flow":1.16},{"t":463,"flow":1.12},{"t":468,"flow":1.16},{"t":473,"flow":1.1},{"t":479,"flow":1.15},{"t":484,"flow":1.1},{"t":489,"flow":0.995},{"t":492,"flow":0.8},{"t":498,"flow":0.87},{"t":502,"flow":0.91},{"t":507,"flow":0.975},{"t":513,"flow":0.995},{"t":518,"flow":1.1},{"t":523,"flow":1.21},{"t":528,"flow":1.1},{"t":533,"flow":1.12},{"t":539,"flow":1.1},{"t":543,"flow":1.06},{"t":548,"flow":1.11},{"t":554,"flow":1.035},{"t":559,"flow":1.015},{"t":564,"flow":1.06},{"t":571,"flow":1},{"t":576,"flow":1.045},{"t":581,"flow":0.995},{"t":588,"flow":0.935},{"t":593,"flow":0.87},{"t":598,"flow":0.92},{"t":603,"flow":0.86},{"t":608,"flow":0.91},{"t":614,"flow":0.995},{"t":619,"flow":1.17},{"t":623,"flow":1.13},{"t":627,"flow":1.085},{"t":632,"flow":1.12},{"t":637,"flow":1.05},{"t":642,"flow":1.015},{"t":648,"flow":0.91},{"t":653,"flow":0.86},{"t":657,"flow":0.91},{"t":663,"flow":0.85},{"t":668,"flow":0.89},{"t":673,"flow":0.85},{"t":678,"flow":0.955},{"t":683,"flow":1.13},{"t":689,"flow":1.11},{"t":694,"flow":1.125},{"t":698,"flow":1.1},{"t":704,"flow":1.105},{"t":709,"flow":1.07},{"t":714,"flow":0.995},{"t":719,"flow":0.91},{"t":724,"flow":0.89},{"t":730,"flow":0.85},{"t":735,"flow":0.89},{"t":739,"flow":0.965},{"t":743,"flow":1.025},{"t":748,"flow":1.14},{"t":753,"flow":1.07},{"t":758,"flow":1.12},{"t":764,"flow":1.17},{"t":769,"flow":1.11},{"t":773,"flow":1.035},{"t":779,"flow":0.86},{"t":784,"flow":0.84},{"t":789,"flow":0.91},{"t":794,"flow":0.9},{"t":799,"flow":0.91},{"t":805,"flow":0.985},{"t":810,"flow":1.14},{"t":814,"flow":1.12},{"t":820,"flow":1.11},{"t":825,"flow":1.12},{"t":832,"flow":1.08},{"t":839,"flow":1.085},{"t":846,"flow":1.055},{"t":851,"flow":1.005},{"t":855,"flow":1.035},{"t":861,"flow":0.995},{"t":866,"flow":1.015},{"t":871,"flow":0.965},{"t":876,"flow":0.91},{"t":881,"flow":0.955},{"t":887,"flow":0.9},{"t":892,"flow":0.935},{"t":896,"flow":0.89},{"t":902,"flow":0.965},{"t":907,"flow":1.12},{"t":912,"flow":1.17},{"t":917,"flow":1.135},{"t":922,"flow":1.14},{"t":928,"flow":1.1},{"t":932,"flow":1.11},{"t":937,"flow":1.025},{"t":941,"flow":0.91},{"t":946,"flow":0.83},{"t":951,"flow":0.91},{"t":956,"flow":0.87},{"t":962,"flow":0.91},{"t":967,"flow":0.9},{"t":971,"flow":1.045},{"t":977,"flow":1.12},{"t":982,"flow":1.155},{"t":987,"flow":1.11},{"t":994,"flow":1.1},{"t":999,"flow":1.12},{"t":1004,"flow":0.995},{"t":1010,"flow":0.82},{"t":1014,"flow":0.87},{"t":1019,"flow":0.9},{"t":1025,"flow":0.89},{"t":1030,"flow":0.94},{"t":1035,"flow":1.035},{"t":1040,"flow":1.13},{"t":1046,"flow":1.1},{"t":1052,"flow":1.14},{"t":1058,"flow":1.09},{"t":1063,"flow":1.12},{"t":1066,"flow":1.07},{"t":1069,"flow":0.91},{"t":1074,"flow":0.83},{"t":1079,"flow":0.9},{"t":1085,"flow":0.87},{"t":1090,"flow":0.91},{"t":1094,"flow":0.89},{"t":1100,"flow":1.035},{"t":1105,"flow":1.085},{"t":1110,"flow":1.055},{"t":1115,"flow":1.095},{"t":1120,"flow":1.045},{"t":1126,"flow":1.075},{"t":1131,"flow":1.025},{"t":1135,"flow":1.055},{"t":1141,"flow":1.005},{"t":1146,"flow":1.025},{"t":1151,"flow":0.995},{"t":1156,"flow":1.015},{"t":1160,"flow":0.975}],
"vol":[{"t":0,"volume":0.995},{"t":8,"volume":0.985},{"t":18,"volume":1},{"t":28,"volume":0.995},{"t":35,"volume":1.015},{"t":41,"volume":1.045},{"t":47,"volume":1.06},{"t":55,"volume":1.045},{"t":62,"volume":1.04},{"t":69,"volume":1.025},{"t":74,"volume":0.985},{"t":79,"volume":0.96},{"t":86,"volume":0.955},{"t":93,"volume":0.96},{"t":100,"volume":0.975},{"t":107,"volume":1.01},{"t":113,"volume":1.03},{"t":120,"volume":1.035},{"t":127,"volume":1.045},{"t":134,"volume":1.015},{"t":141,"volume":0.98},{"t":148,"volume":0.97},{"t":154,"volume":0.975},{"t":161,"volume":0.97},{"t":168,"volume":1.005},{"t":175,"volume":1.035},{"t":185,"volume":1.03},{"t":195,"volume":1.035},{"t":202,"volume":1.01},{"t":209,"volume":0.975},{"t":219,"volume":0.955},{"t":229,"volume":0.965},{"t":236,"volume":1.02},{"t":245,"volume":1.04},{"t":253,"volume":1.035},{"t":264,"volume":1.04},{"t":271,"volume":1.03},{"t":277,"volume":1.015},{"t":284,"volume":1.01},{"t":291,"volume":1},{"t":298,"volume":0.985},{"t":307,"volume":0.975},{"t":316,"volume":0.975},{"t":325,"volume":0.985},{"t":332,"volume":1.035},{"t":341,"volume":1.055},{"t":349,"volume":1.04},{"t":357,"volume":1.025},{"t":364,"volume":0.975},{"t":373,"volume":0.955},{"t":383,"volume":0.965},{"t":391,"volume":0.995},{"t":400,"volume":1.04},{"t":410,"volume":1.035},{"t":421,"volume":1.045},{"t":430,"volume":0.995},{"t":438,"volume":0.965},{"t":448,"volume":0.975},{"t":457,"volume":1.005},{"t":465,"volume":1.04},{"t":475,"volume":1.035},{"t":486,"volume":1.04},{"t":494,"volume":0.985},{"t":500,"volume":0.95},{"t":509,"volume":0.965},{"t":518,"volume":0.985},{"t":525,"volume":1.03},{"t":533,"volume":1.045},{"t":544,"volume":1.03},{"t":554,"volume":1.035},{"t":564,"volume":1.02},{"t":574,"volume":1.005},{"t":582,"volume":0.995},{"t":591,"volume":0.98},{"t":600,"volume":0.975},{"t":608,"volume":0.975},{"t":617,"volume":1.005},{"t":625,"volume":1.04},{"t":636,"volume":1.035},{"t":646,"volume":1.02},{"t":653,"volume":0.985},{"t":662,"volume":0.965},{"t":673,"volume":0.965},{"t":682,"volume":0.995},{"t":690,"volume":1.035},{"t":700,"volume":1.04},{"t":711,"volume":1.035},{"t":719,"volume":0.995},{"t":728,"volume":0.97},{"t":738,"volume":0.97},{"t":746,"volume":0.995},{"t":755,"volume":1.04},{"t":767,"volume":1.045},{"t":776,"volume":1.02},{"t":784,"volume":0.97},{"t":796,"volume":0.965},{"t":806,"volume":0.985},{"t":815,"volume":1.03},{"t":827,"volume":1.035},{"t":840,"volume":1.03},{"t":851,"volume":1.01},{"t":861,"volume":0.995},{"t":871,"volume":0.985},{"t":881,"volume":0.975},{"t":895,"volume":0.98},{"t":905,"volume":0.995},{"t":914,"volume":1.035},{"t":926,"volume":1.04},{"t":936,"volume":1.03},{"t":946,"volume":0.98},{"t":956,"volume":0.965},{"t":967,"volume":0.975},{"t":976,"volume":1.015},{"t":985,"volume":1.04},{"t":996,"volume":1.035},{"t":1006,"volume":0.995},{"t":1017,"volume":0.96},{"t":1028,"volume":0.97},{"t":1038,"volume":0.995},{"t":1049,"volume":1.04},{"t":1059,"volume":1.04},{"t":1069,"volume":0.995},{"t":1078,"volume":0.955},{"t":1090,"volume":0.965},{"t":1100,"volume":0.985},{"t":1110,"volume":1.04},{"t":1120,"volume":1.03},{"t":1131,"volume":1.02},{"t":1141,"volume":1.01},{"t":1151,"volume":1.005},{"t":1160,"volume":1}],
"dhb":[{"t":0,"dHb":1.05},{"t":4,"dHb":1.02},{"t":9,"dHb":1.05},{"t":14,"dHb":1.03},{"t":20,"dHb":1.03},{"t":25,"dHb":1.02},{"t":29,"dHb":1.035},{"t":35,"dHb":0.995},{"t":40,"dHb":0.945},{"t":45,"dHb":0.92},{"t":50,"dHb":0.915},{"t":55,"dHb":0.925},{"t":62,"dHb":0.94},{"t":68,"dHb":0.995},{"t":72,"dHb":1.065},{"t":77,"dHb":1.095},{"t":84,"dHb":1.105},{"t":91,"dHb":1.095},{"t":96,"dHb":1.055},{"t":102,"dHb":0.975},{"t":107,"dHb":0.945},{"t":111,"dHb":0.955},{"t":117,"dHb":0.945},{"t":124,"dHb":0.955},{"t":129,"dHb":0.94},{"t":134,"dHb":0.975},{"t":139,"dHb":1.035},{"t":144,"dHb":1.055},{"t":150,"dHb":1.06},{"t":154,"dHb":1.07},{"t":161,"dHb":1.045},{"t":166,"dHb":0.985},{"t":171,"dHb":0.955},{"t":178,"dHb":0.95},{"t":185,"dHb":0.955},{"t":192,"dHb":0.945},{"t":197,"dHb":0.985},{"t":202,"dHb":1.035},{"t":207,"dHb":1.08},{"t":214,"dHb":1.105},{"t":221,"dHb":1.095},{"t":226,"dHb":1.06},{"t":231,"dHb":0.995},{"t":236,"dHb":0.965},{"t":243,"dHb":0.94},{"t":250,"dHb":0.95},{"t":257,"dHb":0.945},{"t":262,"dHb":0.94},{"t":266,"dHb":0.995},{"t":270,"dHb":1.035},{"t":275,"dHb":1.065},{"t":281,"dHb":1.04},{"t":286,"dHb":1.02},{"t":291,"dHb":1.025},{"t":298,"dHb":1.05},{"t":305,"dHb":1.035},{"t":311,"dHb":1.055},{"t":318,"dHb":1.05},{"t":323,"dHb":1.025},{"t":328,"dHb":0.975},{"t":334,"dHb":0.94},{"t":341,"dHb":0.935},{"t":348,"dHb":0.955},{"t":354,"dHb":0.955},{"t":359,"dHb":0.995},{"t":364,"dHb":1.075},{"t":371,"dHb":1.105},{"t":378,"dHb":1.095},{"t":384,"dHb":1.075},{"t":390,"dHb":1.015},{"t":395,"dHb":0.965},{"t":402,"dHb":0.95},{"t":409,"dHb":0.95},{"t":416,"dHb":0.945},{"t":423,"dHb":0.965},{"t":427,"dHb":1.035},{"t":432,"dHb":1.07},{"t":439,"dHb":1.075},{"t":446,"dHb":1.06},{"t":453,"dHb":1.025},{"t":458,"dHb":0.965},{"t":465,"dHb":0.945},{"t":472,"dHb":0.945},{"t":480,"dHb":0.955},{"t":487,"dHb":0.965},{"t":492,"dHb":1.09},{"t":498,"dHb":1.15},{"t":505,"dHb":1.095},{"t":511,"dHb":1.055},{"t":516,"dHb":1.025},{"t":521,"dHb":0.985},{"t":526,"dHb":0.945},{"t":533,"dHb":0.94},{"t":540,"dHb":0.945},{"t":547,"dHb":0.955},{"t":554,"dHb":0.965},{"t":560,"dHb":0.995},{"t":567,"dHb":0.995},{"t":574,"dHb":1.01},{"t":580,"dHb":1.005},{"t":585,"dHb":1.035},{"t":591,"dHb":1.055},{"t":598,"dHb":1.055},{"t":605,"dHb":1.04},{"t":612,"dHb":1.005},{"t":619,"dHb":0.955},{"t":625,"dHb":0.935},{"t":636,"dHb":0.95},{"t":644,"dHb":0.965},{"t":649,"dHb":1.015},{"t":656,"dHb":1.06},{"t":664,"dHb":1.08},{"t":673,"dHb":1.07},{"t":680,"dHb":1.045},{"t":687,"dHb":0.975},{"t":694,"dHb":0.95},{"t":703,"dHb":0.945},{"t":711,"dHb":0.95},{"t":716,"dHb":0.995},{"t":723,"dHb":1.06},{"t":731,"dHb":1.09},{"t":739,"dHb":1.085},{"t":745,"dHb":1.025},{"t":752,"dHb":0.96},{"t":760,"dHb":0.945},{"t":769,"dHb":0.95},{"t":776,"dHb":0.985},{"t":782,"dHb":1.065},{"t":789,"dHb":1.09},{"t":798,"dHb":1.085},{"t":805,"dHb":1.055},{"t":812,"dHb":0.985},{"t":820,"dHb":0.95},{"t":830,"dHb":0.945},{"t":840,"dHb":0.95},{"t":851,"dHb":0.965},{"t":860,"dHb":0.995},{"t":869,"dHb":1.02},{"t":878,"dHb":1.04},{"t":888,"dHb":1.025},{"t":898,"dHb":1.025},{"t":905,"dHb":0.995},{"t":912,"dHb":0.955},{"t":921,"dHb":0.945},{"t":929,"dHb":0.95},{"t":937,"dHb":0.975},{"t":944,"dHb":1.035},{"t":951,"dHb":1.065},{"t":960,"dHb":1.07},{"t":967,"dHb":1.05},{"t":973,"dHb":0.985},{"t":982,"dHb":0.94},{"t":992,"dHb":0.95},{"t":1001,"dHb":0.975},{"t":1006,"dHb":1.02},{"t":1010,"dHb":1.055},{"t":1018,"dHb":1.08},{"t":1028,"dHb":1.075},{"t":1035,"dHb":1.035},{"t":1042,"dHb":0.965},{"t":1052,"dHb":0.94},{"t":1062,"dHb":0.95},{"t":1069,"dHb":0.995},{"t":1074,"dHb":1.06},{"t":1083,"dHb":1.075},{"t":1093,"dHb":1.065},{"t":1100,"dHb":1.035},{"t":1107,"dHb":0.975},{"t":1117,"dHb":0.965},{"t":1127,"dHb":0.975},{"t":1137,"dHb":0.98},{"t":1146,"dHb":0.995},{"t":1153,"dHb":1.005},{"t":1160,"dHb":1.03}],
"obs":[{"t":0,"observed":-0.82},{"t":4,"observed":-0.3},{"t":9,"observed":-0.7},{"t":13,"observed":-0.1},{"t":18,"observed":-0.2},{"t":21,"observed":-0.1},{"t":25,"observed":-0.88},{"t":28,"observed":-0.36},{"t":31,"observed":-0.3},{"t":38,"observed":-0.36},{"t":45,"observed":1.44},{"t":52,"observed":1.55},{"t":59,"observed":1.23},{"t":62,"observed":0.67},{"t":68,"observed":0.67},{"t":70,"observed":1.23},{"t":74,"observed":0.15},{"t":79,"observed":-0.88},{"t":86,"observed":-1.6},{"t":93,"observed":-1.2},{"t":96,"observed":-0.98},{"t":102,"observed":-0.67},{"t":107,"observed":0.57},{"t":110,"observed":1.23},{"t":113,"observed":0.77},{"t":118,"observed":1.18},{"t":122,"observed":0.67},{"t":127,"observed":1.33},{"t":130,"observed":1.65},{"t":135,"observed":0.32},{"t":141,"observed":-0.67},{"t":146,"observed":-0.93},{"t":151,"observed":-0.57},{"t":154,"observed":-0.82},{"t":158,"observed":-1.33},{"t":161,"observed":-0.88},{"t":165,"observed":0.15},{"t":170,"observed":0.82},{"t":175,"observed":0.87},{"t":180,"observed":1.18},{"t":185,"observed":0.92},{"t":190,"observed":1.18},{"t":195,"observed":0.87},{"t":200,"observed":0.57},{"t":205,"observed":-0.98},{"t":212,"observed":-1.29},{"t":218,"observed":-1.65},{"t":221,"observed":-1.85},{"t":225,"observed":-1.08},{"t":230,"observed":-0.82},{"t":234,"observed":0.57},{"t":238,"observed":1.13},{"t":243,"observed":1.03},{"t":248,"observed":1.13},{"t":252,"observed":0.2},{"t":257,"observed":1.13},{"t":262,"observed":1.28},{"t":266,"observed":0.25},{"t":269,"observed":-1.44},{"t":275,"observed":0.1},{"t":281,"observed":-0.26},{"t":286,"observed":0},{"t":291,"observed":-0.57},{"t":296,"observed":-0.36},{"t":301,"observed":-0.57},{"t":307,"observed":-0.82},{"t":311,"observed":-0.1},{"t":315,"observed":-0.41},{"t":320,"observed":-0.41},{"t":325,"observed":-0.88},{"t":328,"observed":0.32},{"t":333,"observed":1.13},{"t":337,"observed":1.75},{"t":342,"observed":1.08},{"t":348,"observed":0.46},{"t":352,"observed":1.03},{"t":358,"observed":-0.05},{"t":362,"observed":-0.88},{"t":369,"observed":-1.29},{"t":375,"observed":-1.6},{"t":380,"observed":-1.29},{"t":386,"observed":-1.08},{"t":393,"observed":0.05},{"t":398,"observed":1.28},{"t":404,"observed":0.67},{"t":409,"observed":1.08},{"t":414,"observed":0.77},{"t":419,"observed":1.28},{"t":423,"observed":0.77},{"t":428,"observed":0.15},{"t":432,"observed":-1.13},{"t":438,"observed":-0.57},{"t":443,"observed":-1.2},{"t":450,"observed":-1.2},{"t":455,"observed":0.36},{"t":460,"observed":1.08},{"t":465,"observed":0.82},{"t":470,"observed":1.44},{"t":475,"observed":0.98},{"t":480,"observed":1.39},{"t":485,"observed":1.08},{"t":489,"observed":1.5},{"t":492,"observed":-0.46},{"t":498,"observed":-2},{"t":500,"observed":-2.22},{"t":506,"observed":-1.39},{"t":513,"observed":-0.77},{"t":518,"observed":-0.46},{"t":521,"observed":-1.2},{"t":525,"observed":0.92},{"t":530,"observed":0.77},{"t":535,"observed":1.08},{"t":539,"observed":0.77},{"t":543,"observed":0.25},{"t":548,"observed":0.87},{"t":554,"observed":0.82},{"t":559,"observed":-0.36},{"t":564,"observed":0},{"t":569,"observed":-0.15},{"t":574,"observed":0.41},{"t":580,"observed":-0.36},{"t":586,"observed":-0.57},{"t":593,"observed":-0.88},{"t":598,"observed":-0.62},{"t":603,"observed":-0.98},{"t":608,"observed":0.05},{"t":612,"observed":-0.57},{"t":615,"observed":-0.46},{"t":621,"observed":0.98},{"t":625,"observed":1.33},{"t":630,"observed":0.87},{"t":634,"observed":1.03},{"t":639,"observed":0.2},{"t":644,"observed":0.82},{"t":648,"observed":0.62},{"t":653,"observed":0},{"t":658,"observed":-0.72},{"t":663,"observed":-0.98},{"t":666,"observed":-1.7},{"t":671,"observed":-1.08},{"t":675,"observed":-1.44},{"t":680,"observed":-0.77},{"t":685,"observed":0.57},{"t":690,"observed":1.18},{"t":696,"observed":1.08},{"t":700,"observed":1.03},{"t":705,"observed":0.77},{"t":711,"observed":0.98},{"t":716,"observed":0.25},{"t":721,"observed":-0.67},{"t":726,"observed":-0.88},{"t":730,"observed":-1.29},{"t":735,"observed":-1.2},{"t":739,"observed":-1.08},{"t":745,"observed":-0.98},{"t":750,"observed":0.67},{"t":755,"observed":1.33},{"t":760,"observed":1.18},{"t":764,"observed":1.39},{"t":769,"observed":1.39},{"t":774,"observed":0.57},{"t":779,"observed":-0.26},{"t":784,"observed":-1.49},{"t":789,"observed":-1.2},{"t":794,"observed":-1.33},{"t":799,"observed":-0.98},{"t":805,"observed":-1.44},{"t":810,"observed":0.05},{"t":815,"observed":0.92},{"t":820,"observed":0.87},{"t":825,"observed":0.92},{"t":830,"observed":0.77},{"t":835,"observed":0.82},{"t":840,"observed":0.62},{"t":846,"observed":0.62},{"t":851,"observed":0.05},{"t":855,"observed":-0.77},{"t":860,"observed":0.15},{"t":864,"observed":-0.52},{"t":868,"observed":-0.2},{"t":873,"observed":-0.67},{"t":878,"observed":-0.36},{"t":883,"observed":-0.57},{"t":888,"observed":-0.41},{"t":894,"observed":-0.3},{"t":898,"observed":-0.57},{"t":903,"observed":-0.98},{"t":907,"observed":0.36},{"t":912,"observed":1.23},{"t":917,"observed":1.5},{"t":922,"observed":1.08},{"t":928,"observed":0.98},{"t":932,"observed":1.13},{"t":937,"observed":0.57},{"t":943,"observed":-0.88},{"t":948,"observed":-1.2},{"t":953,"observed":-1.44},{"t":958,"observed":-1.2},{"t":963,"observed":-1.2},{"t":969,"observed":-0.98},{"t":973,"observed":0.25},{"t":978,"observed":0.87},{"t":983,"observed":1.15},{"t":989,"observed":0.95},{"t":995,"observed":1.1},{"t":1000,"observed":0.9},{"t":1006,"observed":0.15},{"t":1014,"observed":-1.8},{"t":1019,"observed":-1.2},{"t":1025,"observed":-0.88},{"t":1030,"observed":-0.77},{"t":1035,"observed":-0.46},{"t":1038,"observed":0.52},{"t":1043,"observed":1},{"t":1049,"observed":1.1},{"t":1055,"observed":0.9},{"t":1061,"observed":1.05},{"t":1066,"observed":0.7},{"t":1069,"observed":0.5},{"t":1074,"observed":-0.98},{"t":1078,"observed":-1.49},{"t":1083,"observed":-1.39},{"t":1088,"observed":-0.88},{"t":1092,"observed":-1.2},{"t":1096,"observed":-0.98},{"t":1101,"observed":0.05},{"t":1107,"observed":0.87},{"t":1115,"observed":0.92},{"t":1120,"observed":0.41},{"t":1126,"observed":0.57},{"t":1131,"observed":0.36},{"t":1137,"observed":0.15},{"t":1142,"observed":0},{"t":1146,"observed":-0.15},{"t":1151,"observed":-0.1},{"t":1154,"observed":-0.36},{"t":1158,"observed":-0.57}],
"pre":[{"t":0,"predicted":-0.75},{"t":4,"predicted":-0.3},{"t":9,"predicted":-0.6},{"t":13,"predicted":-0.15},{"t":18,"predicted":-0.2},{"t":21,"predicted":-0.15},{"t":25,"predicted":-0.75},{"t":28,"predicted":-0.35},{"t":31,"predicted":-0.3},{"t":38,"predicted":-0.3},{"t":45,"predicted":1.2},{"t":52,"predicted":1.25},{"t":59,"predicted":1.1},{"t":62,"predicted":0.65},{"t":68,"predicted":0.65},{"t":70,"predicted":1.05},{"t":74,"predicted":0.15},{"t":79,"predicted":-0.8},{"t":86,"predicted":-1.45},{"t":93,"predicted":-1.1},{"t":96,"predicted":-0.95},{"t":102,"predicted":-0.6},{"t":107,"predicted":0.5},{"t":110,"predicted":1.05},{"t":113,"predicted":0.75},{"t":118,"predicted":1},{"t":122,"predicted":0.65},{"t":127,"predicted":1.15},{"t":130,"predicted":1.4},{"t":135,"predicted":0.35},{"t":141,"predicted":-0.6},{"t":146,"predicted":-0.85},{"t":151,"predicted":-0.55},{"t":154,"predicted":-0.75},{"t":158,"predicted":-1.15},{"t":161,"predicted":-0.8},{"t":165,"predicted":0.15},{"t":170,"predicted":0.75},{"t":175,"predicted":0.8},{"t":180,"predicted":1},{"t":185,"predicted":0.85},{"t":190,"predicted":1},{"t":195,"predicted":0.8},{"t":200,"predicted":0.55},{"t":205,"predicted":-0.9},{"t":212,"predicted":-1.2},{"t":218,"predicted":-1.5},{"t":221,"predicted":-1.65},{"t":225,"predicted":-1},{"t":230,"predicted":-0.75},{"t":234,"predicted":0.55},{"t":238,"predicted":1},{"t":243,"predicted":0.95},{"t":248,"predicted":1},{"t":252,"predicted":0.25},{"t":257,"predicted":1},{"t":262,"predicted":1.1},{"t":266,"predicted":0.3},{"t":269,"predicted":-1.1},{"t":275,"predicted":0.1},{"t":281,"predicted":-0.2},{"t":286,"predicted":0},{"t":291,"predicted":-0.5},{"t":296,"predicted":-0.35},{"t":301,"predicted":-0.5},{"t":307,"predicted":-0.7},{"t":311,"predicted":-0.1},{"t":315,"predicted":-0.35},{"t":320,"predicted":-0.4},{"t":325,"predicted":-0.75},{"t":328,"predicted":0.3},{"t":333,"predicted":1},{"t":337,"predicted":1.5},{"t":342,"predicted":1},{"t":348,"predicted":0.45},{"t":352,"predicted":0.95},{"t":358,"predicted":0},{"t":362,"predicted":-0.8},{"t":369,"predicted":-1.2},{"t":375,"predicted":-1.45},{"t":380,"predicted":-1.2},{"t":386,"predicted":-1},{"t":393,"predicted":0.05},{"t":398,"predicted":1.1},{"t":404,"predicted":0.65},{"t":409,"predicted":1},{"t":414,"predicted":0.75},{"t":419,"predicted":1.1},{"t":423,"predicted":0.75},{"t":428,"predicted":0.15},{"t":432,"predicted":-0.95},{"t":438,"predicted":-0.55},{"t":443,"predicted":-1.05},{"t":450,"predicted":-1.05},{"t":455,"predicted":0.35},{"t":460,"predicted":0.95},{"t":465,"predicted":0.8},{"t":470,"predicted":1.25},{"t":475,"predicted":0.95},{"t":480,"predicted":1.2},{"t":485,"predicted":1},{"t":489,"predicted":1.3},{"t":492,"predicted":-0.4},{"t":498,"predicted":-1.8},{"t":500,"predicted":-1.95},{"t":506,"predicted":-1.25},{"t":513,"predicted":-0.7},{"t":518,"predicted":-0.45},{"t":521,"predicted":-1},{"t":525,"predicted":0.85},{"t":530,"predicted":0.75},{"t":535,"predicted":1},{"t":539,"predicted":0.75},{"t":543,"predicted":0.3},{"t":548,"predicted":0.8},{"t":554,"predicted":0.8},{"t":559,"predicted":-0.3},{"t":564,"predicted":0},{"t":569,"predicted":-0.1},{"t":574,"predicted":0.35},{"t":580,"predicted":-0.3},{"t":586,"predicted":-0.5},{"t":593,"predicted":-0.8},{"t":598,"predicted":-0.6},{"t":603,"predicted":-0.85},{"t":608,"predicted":0},{"t":612,"predicted":-0.5},{"t":615,"predicted":-0.45},{"t":621,"predicted":0.9},{"t":625,"predicted":1.15},{"t":630,"predicted":0.85},{"t":634,"predicted":0.95},{"t":639,"predicted":0.25},{"t":644,"predicted":0.75},{"t":648,"predicted":0.6},{"t":653,"predicted":0},{"t":658,"predicted":-0.65},{"t":663,"predicted":-0.9},{"t":666,"predicted":-1.5},{"t":671,"predicted":-1},{"t":675,"predicted":-1.3},{"t":680,"predicted":-0.7},{"t":685,"predicted":0.5},{"t":690,"predicted":1.05},{"t":696,"predicted":1},{"t":700,"predicted":0.95},{"t":705,"predicted":0.75},{"t":711,"predicted":0.9},{"t":716,"predicted":0.25},{"t":721,"predicted":-0.6},{"t":726,"predicted":-0.8},{"t":730,"predicted":-1.15},{"t":735,"predicted":-1.1},{"t":739,"predicted":-1},{"t":745,"predicted":-0.9},{"t":750,"predicted":0.6},{"t":755,"predicted":1.15},{"t":760,"predicted":1.05},{"t":764,"predicted":1.2},{"t":769,"predicted":1.2},{"t":774,"predicted":0.55},{"t":779,"predicted":-0.25},{"t":784,"predicted":-1.3},{"t":789,"predicted":-1.1},{"t":794,"predicted":-1.2},{"t":799,"predicted":-0.9},{"t":805,"predicted":-1.25},{"t":810,"predicted":0.05},{"t":815,"predicted":0.85},{"t":820,"predicted":0.8},{"t":825,"predicted":0.85},{"t":830,"predicted":0.72},{"t":835,"predicted":0.75},{"t":840,"predicted":0.6},{"t":846,"predicted":0.6},{"t":851,"predicted":0.05},{"t":855,"predicted":-0.7},{"t":860,"predicted":0.1},{"t":864,"predicted":-0.5},{"t":868,"predicted":-0.2},{"t":873,"predicted":-0.6},{"t":878,"predicted":-0.35},{"t":883,"predicted":-0.5},{"t":888,"predicted":-0.4},{"t":894,"predicted":-0.3},{"t":898,"predicted":-0.5},{"t":903,"predicted":-0.9},{"t":907,"predicted":0.3},{"t":912,"predicted":1.1},{"t":917,"predicted":1.3},{"t":922,"predicted":1},{"t":928,"predicted":0.9},{"t":932,"predicted":1},{"t":937,"predicted":0.55},{"t":943,"predicted":-0.8},{"t":948,"predicted":-1.1},{"t":953,"predicted":-1.3},{"t":958,"predicted":-1.1},{"t":963,"predicted":-1.1},{"t":969,"predicted":-0.9},{"t":973,"predicted":0.25},{"t":978,"predicted":0.8},{"t":983,"predicted":1},{"t":989,"predicted":0.9},{"t":995,"predicted":1},{"t":1000,"predicted":0.85},{"t":1006,"predicted":0.15},{"t":1014,"predicted":-1.6},{"t":1019,"predicted":-1.1},{"t":1025,"predicted":-0.8},{"t":1030,"predicted":-0.7},{"t":1035,"predicted":-0.45},{"t":1038,"predicted":0.45},{"t":1043,"predicted":0.9},{"t":1049,"predicted":1},{"t":1055,"predicted":0.85},{"t":1061,"predicted":0.95},{"t":1066,"predicted":0.65},{"t":1069,"predicted":0.45},{"t":1074,"predicted":-0.9},{"t":1078,"predicted":-1.35},{"t":1083,"predicted":-1.25},{"t":1088,"predicted":-0.85},{"t":1092,"predicted":-1.1},{"t":1096,"predicted":-0.9},{"t":1101,"predicted":0.05},{"t":1107,"predicted":0.8},{"t":1115,"predicted":0.85},{"t":1120,"predicted":0.4},{"t":1126,"predicted":0.5},{"t":1131,"predicted":0.35},{"t":1137,"predicted":0.15},{"t":1142,"predicted":0},{"t":1146,"predicted":-0.15},{"t":1151,"predicted":-0.1},{"t":1154,"predicted":-0.3},{"t":1158,"predicted":-0.5}]
},
"spacing":24,
"resolve":{"scale":{"color":"independent"},"legend":{"color":"independent"}},
"hconcat":[
{"spacing":76,"bounds":"flush","resolve":{"scale":{"color":"independent"},"legend":{"color":"independent"}},
"vconcat":[
{"width":586,"height":161,
"title":{"text":["Estimates of hidden causes and states","(Generalised filtering)"],"fontSize":32,"lineHeight":42,"subtitle":"inputs or causes –V1","subtitleFontSize":21,"subtitlePadding":22,"offset":2},
"resolve":{"scale":{"x":"independent","y":"independent"}},
"encoding":{"x":{"field":"t","type":"quantitative","title":null,"scale":{"domain":[0,1200],"nice":false},"axis":{"values":[0,200,400,600,800,1000,1200],"format":"d"}},"y":{"field":"v","type":"quantitative","title":null,"scale":{"domain":[-1,1],"nice":false,"zero":false},"axis":{"values":[-1,-0.5,0,0.5,1],"labelExpr":"replace(format(datum.value,'~g'),'−','-')"}}},
"layer":[
{"data":{"name":"v1L"},"mark":{"type":"line","color":"#0000ff","strokeWidth":1,"clip":true}},
{"data":{"name":"fr"},"mark":{"type":"point","opacity":0,"clip":true},"encoding":{"x":{"field":"t","type":"quantitative","title":null,"scale":{"domain":[0,1200],"nice":false},"axis":{"orient":"top","labels":false,"values":[0,200,400,600,800,1000,1200]}},"y":{"field":"v","type":"quantitative","title":null,"scale":{"domain":[-1,1],"nice":false,"zero":false},"axis":{"orient":"right","labels":false,"values":[-1,-0.5,0,0.5,1]}}}}
]},
{"width":586,"height":161,
"title":{"text":"hidden states -neuronal","fontSize":21,"offset":2},
"resolve":{"scale":{"x":"independent","y":"independent"}},
"encoding":{"x":{"field":"t","type":"quantitative","title":null,"scale":{"domain":[0,1200],"nice":false},"axis":{"values":[0,200,400,600,800,1000,1200],"format":"d"}},"y":{"field":"v","type":"quantitative","title":null,"scale":{"domain":[-0.1,0.1],"nice":false,"zero":false},"axis":{"values":[-0.1,-0.05,0,0.05,0.1],"labelExpr":"replace(format(datum.value,'~g'),'−','-')"}}},
"layer":[
{"data":{"name":"neL"},"transform":[{"fold":["neuronal"],"as":["s","v"]}],"mark":{"type":"line","strokeWidth":1,"clip":true},"encoding":{"color":{"field":"s","type":"nominal","title":null,"scale":{"domain":["neuronal","signal"],"range":["#0000ff","#008000"]}}}},
{"data":{"name":"siL"},"transform":[{"fold":["signal"],"as":["s","v"]}],"mark":{"type":"line","strokeWidth":1,"clip":true},"encoding":{"x":{"field":"t","type":"quantitative","scale":{"domain":[0,1200],"nice":false},"axis":null},"y":{"field":"v","type":"quantitative","scale":{"domain":[-0.1,0.1],"nice":false,"zero":false},"axis":null},"color":{"field":"s","type":"nominal","title":null}}},
{"data":{"name":"fr"},"mark":{"type":"point","opacity":0,"clip":true},"encoding":{"x":{"field":"t","type":"quantitative","title":null,"scale":{"domain":[0,1200],"nice":false},"axis":{"orient":"top","labels":false,"values":[0,200,400,600,800,1000,1200]}},"y":{"field":"v","type":"quantitative","title":null,"scale":{"domain":[-0.1,0.1],"nice":false,"zero":false},"axis":{"orient":"right","labels":false,"values":[-0.1,-0.05,0,0.05,0.1]}}}}
]},
{"width":586,"height":161,
"title":{"text":"hidden states - hemodynamic","fontSize":21,"offset":2},
"resolve":{"scale":{"x":"independent","y":"independent"}},
"encoding":{"x":{"field":"t","type":"quantitative","title":null,"scale":{"domain":[0,1200],"nice":false},"axis":{"values":[0,200,400,600,800,1000,1200],"format":"d"}},"y":{"field":"v","type":"quantitative","title":null,"scale":{"domain":[0.8,1.3],"nice":false,"zero":false},"axis":{"values":[0.8,0.9,1,1.1,1.2,1.3],"labelExpr":"replace(format(datum.value,'~g'),'−','-')"}}},
"layer":[
{"data":{"name":"flo"},"transform":[{"fold":["flow"],"as":["s","v"]}],"mark":{"type":"line","strokeWidth":1,"clip":true},"encoding":{"color":{"field":"s","type":"nominal","title":null,"scale":{"domain":["flow","volume","dHb"],"range":["#0000ff","#008000","#ff0000"]}}}},
{"data":{"name":"vol"},"transform":[{"fold":["volume"],"as":["s","v"]}],"mark":{"type":"line","strokeWidth":1,"clip":true},"encoding":{"x":{"field":"t","type":"quantitative","scale":{"domain":[0,1200],"nice":false},"axis":null},"y":{"field":"v","type":"quantitative","scale":{"domain":[0.8,1.3],"nice":false,"zero":false},"axis":null},"color":{"field":"s","type":"nominal","title":null}}},
{"data":{"name":"dhb"},"transform":[{"fold":["dHb"],"as":["s","v"]}],"mark":{"type":"line","strokeWidth":1,"clip":true},"encoding":{"x":{"field":"t","type":"quantitative","scale":{"domain":[0,1200],"nice":false},"axis":null},"y":{"field":"v","type":"quantitative","scale":{"domain":[0.8,1.3],"nice":false,"zero":false},"axis":null},"color":{"field":"s","type":"nominal","title":null}}},
{"data":{"name":"fr"},"mark":{"type":"point","opacity":0,"clip":true},"encoding":{"x":{"field":"t","type":"quantitative","title":null,"scale":{"domain":[0,1200],"nice":false},"axis":{"orient":"top","labels":false,"values":[0,200,400,600,800,1000,1200]}},"y":{"field":"v","type":"quantitative","title":null,"scale":{"domain":[0.8,1.3],"nice":false,"zero":false},"axis":{"orient":"right","labels":false,"values":[0.8,0.9,1,1.1,1.2,1.3]}}}}
]},
{"width":586,"height":161,
"title":{"text":"predicted BOLD signal","fontSize":21,"offset":2},
"resolve":{"scale":{"x":"independent","y":"independent"}},
"encoding":{"x":{"field":"t","type":"quantitative","title":"time (seconds)","scale":{"domain":[0,1200],"nice":false},"axis":{"values":[0,200,400,600,800,1000,1200],"format":"d"}},"y":{"field":"v","type":"quantitative","title":null,"scale":{"domain":[-3,2],"nice":false,"zero":false},"axis":{"values":[-3,-2,-1,0,1,2],"labelExpr":"replace(format(datum.value,'~g'),'−','-')"}}},
"layer":[
{"data":{"name":"obs"},"transform":[{"fold":["observed"],"as":["s","v"]}],"mark":{"type":"line","strokeWidth":1,"clip":true},"encoding":{"color":{"field":"s","type":"nominal","title":null,"scale":{"domain":["observed","predicted"],"range":["#0000ff","#008000"]}}}},
{"data":{"name":"pre"},"transform":[{"fold":["predicted"],"as":["s","v"]}],"mark":{"type":"line","strokeWidth":1,"clip":true},"encoding":{"x":{"field":"t","type":"quantitative","scale":{"domain":[0,1200],"nice":false},"axis":null},"y":{"field":"v","type":"quantitative","scale":{"domain":[-3,2],"nice":false,"zero":false},"axis":null},"color":{"field":"s","type":"nominal","title":null}}},
{"data":{"name":"fr"},"mark":{"type":"point","opacity":0,"clip":true},"encoding":{"x":{"field":"t","type":"quantitative","title":null,"scale":{"domain":[0,1200],"nice":false},"axis":{"orient":"top","labels":false,"values":[0,200,400,600,800,1000,1200]}},"y":{"field":"v","type":"quantitative","title":null,"scale":{"domain":[-3,2],"nice":false,"zero":false},"axis":{"orient":"right","labels":false,"values":[-3,-2,-1,0,1,2]}}}}
]}
]},
{"spacing":76,"bounds":"flush","resolve":{"scale":{"color":"independent"},"legend":{"color":"independent"}},
"vconcat":[
{"width":586,"height":161,
"title":{"text":["Estimates of hidden causes and states","(DEM –mean field)"],"fontSize":32,"lineHeight":42,"subtitle":"inputs or causes –V1","subtitleFontSize":21,"subtitlePadding":22,"offset":10},
"resolve":{"scale":{"x":"independent","y":"independent"}},
"encoding":{"x":{"field":"t","type":"quantitative","title":null,"scale":{"domain":[0,1200],"nice":false},"axis":{"values":[0,200,400,600,800,1000,1200],"format":"d"}},"y":{"field":"v","type":"quantitative","title":null,"scale":{"domain":[-1,1],"nice":false,"zero":false},"axis":{"values":[-1,-0.5,0,0.5,1],"labels":false}}},
"layer":[
{"data":{"name":"v1R"},"mark":{"type":"line","color":"#0000ff","strokeWidth":1,"clip":true}},
{"data":{"name":"fr"},"mark":{"type":"point","opacity":0,"clip":true},"encoding":{"x":{"field":"t","type":"quantitative","title":null,"scale":{"domain":[0,1200],"nice":false},"axis":{"orient":"top","labels":false,"values":[0,200,400,600,800,1000,1200]}},"y":{"field":"v","type":"quantitative","title":null,"scale":{"domain":[-1,1],"nice":false,"zero":false},"axis":{"orient":"right","labels":false,"values":[-1,-0.5,0,0.5,1]}}}}
]},
{"width":586,"height":161,
"title":{"text":"hidden states -neuronal","fontSize":21,"offset":10},
"resolve":{"scale":{"x":"independent","y":"independent"}},
"encoding":{"x":{"field":"t","type":"quantitative","title":null,"scale":{"domain":[0,1200],"nice":false},"axis":{"values":[0,200,400,600,800,1000,1200],"format":"d"}},"y":{"field":"v","type":"quantitative","title":null,"scale":{"domain":[-0.1,0.1],"nice":false,"zero":false},"axis":{"values":[-0.1,-0.05,0,0.05,0.1],"labels":false}}},
"layer":[
{"data":{"name":"neR"},"transform":[{"fold":["neuronal"],"as":["s","v"]}],"mark":{"type":"line","strokeWidth":1,"clip":true},"encoding":{"color":{"field":"s","type":"nominal","title":null,"scale":{"domain":["neuronal","signal"],"range":["#0000ff","#008000"]}}}},
{"data":{"name":"siR"},"transform":[{"fold":["signal"],"as":["s","v"]}],"mark":{"type":"line","strokeWidth":1,"clip":true},"encoding":{"x":{"field":"t","type":"quantitative","scale":{"domain":[0,1200],"nice":false},"axis":null},"y":{"field":"v","type":"quantitative","scale":{"domain":[-0.1,0.1],"nice":false,"zero":false},"axis":null},"color":{"field":"s","type":"nominal","title":null}}},
{"data":{"name":"fr"},"mark":{"type":"point","opacity":0,"clip":true},"encoding":{"x":{"field":"t","type":"quantitative","title":null,"scale":{"domain":[0,1200],"nice":false},"axis":{"orient":"top","labels":false,"values":[0,200,400,600,800,1000,1200]}},"y":{"field":"v","type":"quantitative","title":null,"scale":{"domain":[-0.1,0.1],"nice":false,"zero":false},"axis":{"orient":"right","labels":false,"values":[-0.1,-0.05,0,0.05,0.1]}}}}
]},
{"width":586,"height":161,
"title":{"text":"hidden states - hemodynamic","fontSize":21,"offset":10},
"resolve":{"scale":{"x":"independent","y":"independent"}},
"encoding":{"x":{"field":"t","type":"quantitative","title":null,"scale":{"domain":[0,1200],"nice":false},"axis":{"values":[0,200,400,600,800,1000,1200],"format":"d"}},"y":{"field":"v","type":"quantitative","title":null,"scale":{"domain":[0.8,1.3],"nice":false,"zero":false},"axis":{"values":[0.8,0.9,1,1.1,1.2,1.3],"labels":false}}},
"layer":[
{"data":{"name":"flo"},"transform":[{"fold":["flow"],"as":["s","v"]}],"mark":{"type":"line","strokeWidth":1,"clip":true},"encoding":{"color":{"field":"s","type":"nominal","title":null,"scale":{"domain":["flow","volume","dHb"],"range":["#0000ff","#008000","#ff0000"]}}}},
{"data":{"name":"vol"},"transform":[{"fold":["volume"],"as":["s","v"]}],"mark":{"type":"line","strokeWidth":1,"clip":true},"encoding":{"x":{"field":"t","type":"quantitative","scale":{"domain":[0,1200],"nice":false},"axis":null},"y":{"field":"v","type":"quantitative","scale":{"domain":[0.8,1.3],"nice":false,"zero":false},"axis":null},"color":{"field":"s","type":"nominal","title":null}}},
{"data":{"name":"dhb"},"transform":[{"fold":["dHb"],"as":["s","v"]}],"mark":{"type":"line","strokeWidth":1,"clip":true},"encoding":{"x":{"field":"t","type":"quantitative","scale":{"domain":[0,1200],"nice":false},"axis":null},"y":{"field":"v","type":"quantitative","scale":{"domain":[0.8,1.3],"nice":false,"zero":false},"axis":null},"color":{"field":"s","type":"nominal","title":null}}},
{"data":{"name":"fr"},"mark":{"type":"point","opacity":0,"clip":true},"encoding":{"x":{"field":"t","type":"quantitative","title":null,"scale":{"domain":[0,1200],"nice":false},"axis":{"orient":"top","labels":false,"values":[0,200,400,600,800,1000,1200]}},"y":{"field":"v","type":"quantitative","title":null,"scale":{"domain":[0.8,1.3],"nice":false,"zero":false},"axis":{"orient":"right","labels":false,"values":[0.8,0.9,1,1.1,1.2,1.3]}}}}
]},
{"width":586,"height":161,
"title":{"text":"predicted BOLD signal","fontSize":21,"offset":10},
"resolve":{"scale":{"x":"independent","y":"independent"}},
"encoding":{"x":{"field":"t","type":"quantitative","title":"time (seconds)","scale":{"domain":[0,1200],"nice":false},"axis":{"values":[0,200,400,600,800,1000,1200],"format":"d"}},"y":{"field":"v","type":"quantitative","title":null,"scale":{"domain":[-3,2],"nice":false,"zero":false},"axis":{"values":[-3,-2,-1,0,1,2],"labels":false}}},
"layer":[
{"data":{"name":"obs"},"transform":[{"fold":["observed"],"as":["s","v"]}],"mark":{"type":"line","strokeWidth":1,"clip":true},"encoding":{"color":{"field":"s","type":"nominal","title":null,"scale":{"domain":["observed","predicted"],"range":["#0000ff","#008000"]}}}},
{"data":{"name":"pre"},"transform":[{"fold":["predicted"],"as":["s","v"]}],"mark":{"type":"line","strokeWidth":1,"clip":true},"encoding":{"x":{"field":"t","type":"quantitative","scale":{"domain":[0,1200],"nice":false},"axis":null},"y":{"field":"v","type":"quantitative","scale":{"domain":[-3,2],"nice":false,"zero":false},"axis":null},"color":{"field":"s","type":"nominal","title":null}}},
{"data":{"name":"fr"},"mark":{"type":"point","opacity":0,"clip":true},"encoding":{"x":{"field":"t","type":"quantitative","title":null,"scale":{"domain":[0,1200],"nice":false},"axis":{"orient":"top","labels":false,"values":[0,200,400,600,800,1000,1200]}},"y":{"field":"v","type":"quantitative","title":null,"scale":{"domain":[-3,2],"nice":false,"zero":false},"axis":{"orient":"right","labels":false,"values":[-3,-2,-1,0,1,2]}}}}
]}
]}
]
}
